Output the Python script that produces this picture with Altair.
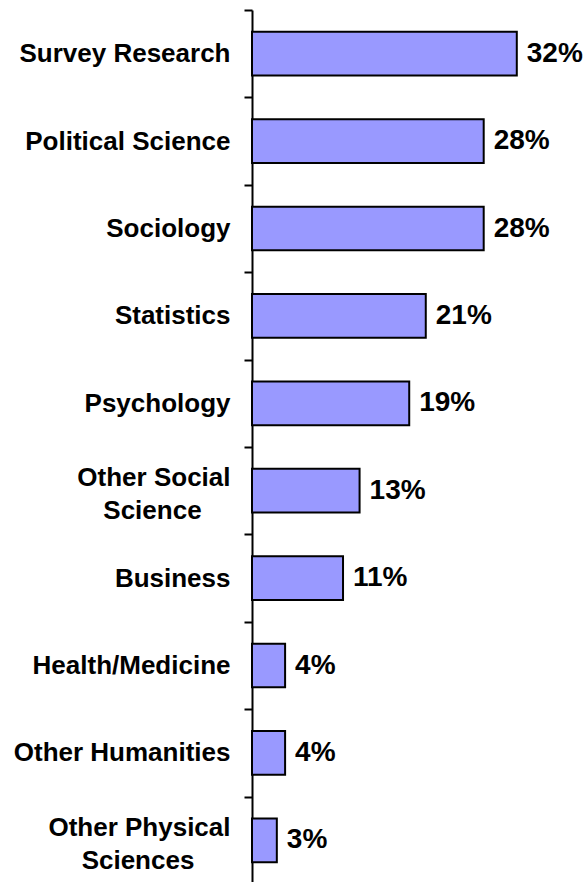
import altair as alt
import pandas as pd

categories = [
    "Survey Research",
    "Political Science",
    "Sociology",
    "Statistics",
    "Psychology",
    "Other Social Science",
    "Business",
    "Health/Medicine",
    "Other Humanities",
    "Other Physical Sciences",
]
values = [32, 28, 28, 21, 19, 13, 11, 4, 4, 3]
value_labels = ["32%", "28%", "28%", "21%", "19%", "13%", "11%", "4%", "4%", "3%"]

# two-line labels; the shorter second line is padded with no-break spaces
# (closed by a zero-width space so they are not trimmed) so that, right-aligned,
# it sits centred under the first line
NB = "\u00a0"
ZW = "\u200b"
wrapped = {
    "Other Social Science": ["Other Social", "Science" + NB * 4 + ZW],
    "Other Physical Sciences": ["Other Physical", "Sciences" + NB * 5 + ZW],
}

label_expr = ""
for k, (l1, l2) in wrapped.items():
    label_expr += f"datum.value == '{k}' ? ['{l1}', '{l2}'] : "
label_expr += "datum.value"

multi_test = " || ".join(f"datum.value == '{k}'" for k in wrapped)

df = pd.DataFrame({"cat": categories, "val": values, "lab": value_labels})

FONT = "Liberation Sans"

y_axis = alt.Axis(
    title=None,
    labelExpr=label_expr,
    labelFont=FONT,
    labelFontSize=26,
    labelFontWeight="bold",
    labelColor="black",
    labelLineHeight=33,
    labelBaseline={
        "condition": {"test": multi_test, "value": "bottom"},
        "value": "middle",
    },
    labelAlign="right",
    labelPadding=14,
    labelOverlap=False,
    labelLimit=0,
    tickBand="extent",
    tickSize=8,
    tickColor="black",
    tickWidth=2,
    domainColor="black",
    domainWidth=2,
    grid=False,
)

y = alt.Y(
    "cat:N",
    sort=categories,
    scale=alt.Scale(paddingInner=0, paddingOuter=0),
    axis=y_axis,
)
x = alt.X("val:Q", scale=alt.Scale(domain=[0, 40], nice=False), axis=None)

bars = alt.Chart(df).mark_bar(
    color="#9999FF",
    stroke="black",
    strokeWidth=2,
    height=alt.RelativeBandSize(0.5),
).encode(x=x, y=y)

text = alt.Chart(df).mark_text(
    align="left",
    baseline="middle",
    dx=10,
    font=FONT,
    fontSize=28,
    fontWeight="bold",
    color="black",
).encode(x=x, y=y, text="lab:N")

chart = (
    (bars + text)
    .properties(
        width=331,
        height=874,
        autosize=alt.AutoSizeParams(type="none"),
        padding={"left": 252, "top": 10, "right": 4, "bottom": 0},
        background="white",
    )
    .configure_view(stroke=None)
)

chart.save("out.html", embed_options={"renderer": "svg", "actions": False})
